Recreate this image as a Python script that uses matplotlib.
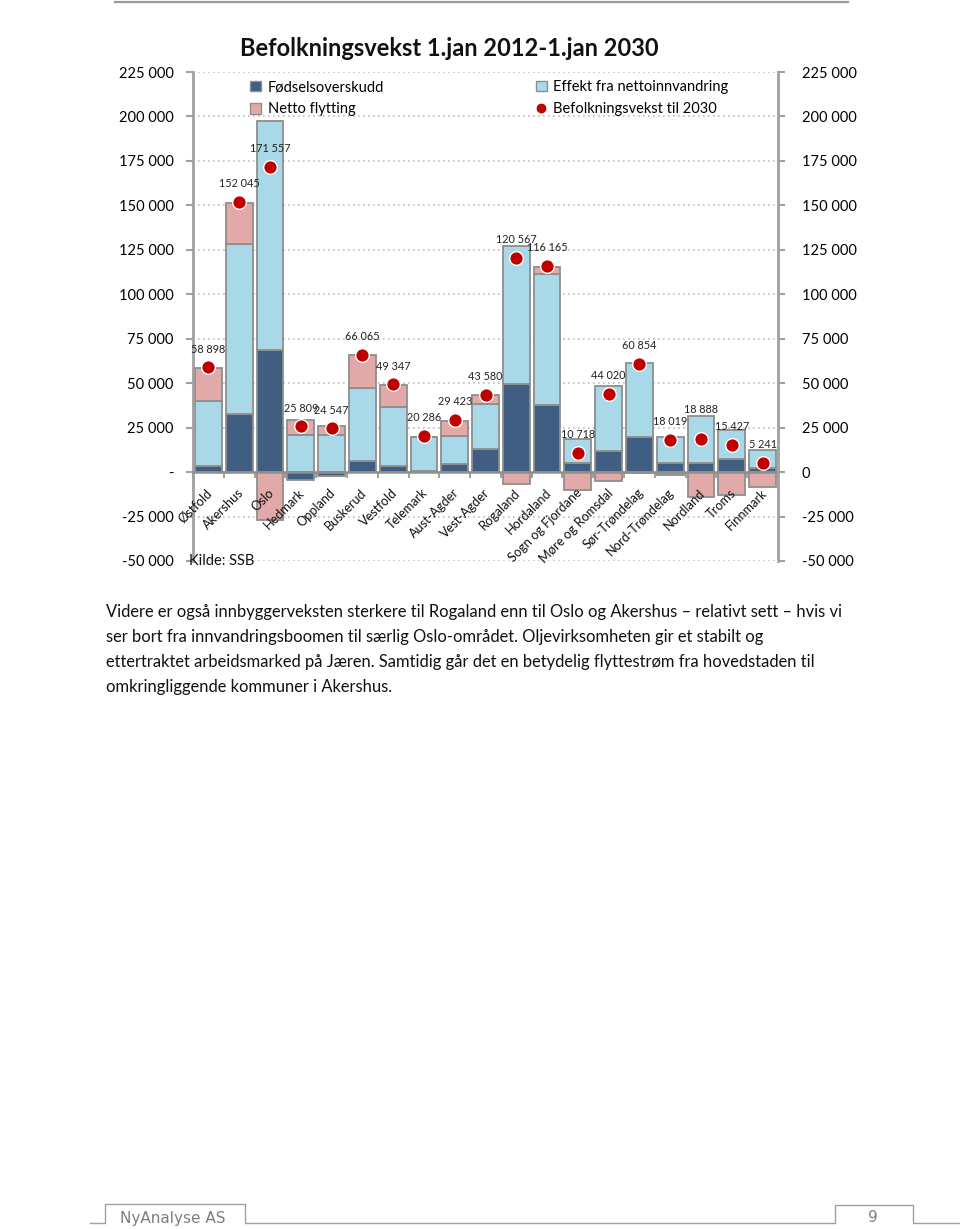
import numpy as np
import matplotlib.pyplot as plt
from matplotlib.lines import Line2D
from matplotlib.patches import Patch

plt.rcParams['font.family'] = ['Lato', 'DejaVu Sans']

# Data
fylker = ['Østfold', 'Akershus', 'Oslo', 'Hedmark', 'Oppland', 'Buskerud', 'Vestfold',
          'Telemark', 'Aust-Agder', 'Vest-Agder', 'Rogaland', 'Hordaland',
          'Sogn og Fjordane', 'Møre og Romsdal', 'Sør-Trøndelag', 'Nord-Trøndelag',
          'Nordland', 'Troms', 'Finnmark']
fodselsoverskudd = [3500, 32800, 68800, -4300, -2200, 6400, 3600, 800, 4700, 13100,
                    49300, 38000, 5300, 12000, 20000, 5300, 5300, 7500, 2200]
nettoinnvandring = [36400, 95300, 128400, 21000, 21000, 40800, 33100, 18900, 15800, 25300,
                    77700, 73500, 13200, 36300, 41500, 14700, 26400, 15900, 10400]
netto_flytting = [18400, 23400, -26700, 8400, 5100, 18400, 12000, 0, 8400, 4700,
                  -6900, 4100, -9900, -5000, -600, -1500, -14000, -13100, -8400]
befolkningsvekst = [58898, 152045, 171557, 25809, 24547, 66065, 49347, 20286, 29423, 43580,
                    120567, 116165, 10718, 44020, 60854, 18019, 18888, 15427, 5241]

serier = ['Fødselsoverskudd', 'Effekt fra nettoinnvandring', 'Netto flytting']
farger = ['#3F5E82', '#A9D8E8', '#E2A9A9']
kant = '#8E8E8E'

tekst = ['Videre er også innbyggerveksten sterkere til Rogaland enn til Oslo og Akershus \u2013 relativt sett \u2013 hvis vi',
         'ser bort fra innvandringsboomen til særlig Oslo-området. Oljevirksomheten gir et stabilt og',
         'ettertraktet arbeidsmarked på Jæren. Samtidig går det en betydelig flyttestrøm fra hovedstaden til',
         'omkringliggende kommuner i Akershus.']


def fmt(v):
    return f'{v:,.0f}'.replace(',', ' ')


W, H = 960, 1229
fig = plt.figure(figsize=(W / 100, H / 100), dpi=100)


def fx(px):
    return px / W


def fy(py):
    return 1 - py / H


ax = fig.add_axes([fx(193), fy(561), fx(778) - fx(193), fy(72) - fy(561)])

x = np.arange(len(fylker))
pos_bunn = np.zeros(len(x))
neg_bunn = np.zeros(len(x))
for vals, col in zip([fodselsoverskudd, nettoinnvandring, netto_flytting], farger):
    vals = np.array(vals, dtype=float)
    bunn = np.where(vals >= 0, pos_bunn, neg_bunn)
    ax.bar(x, vals, 0.87, bottom=bunn, color=col, edgecolor=kant, linewidth=1.3, zorder=2)
    pos_bunn += np.clip(vals, 0, None)
    neg_bunn += np.clip(vals, None, 0)

ax.plot(x, befolkningsvekst, 'o', color='#C00000', mec='white', mew=1.0, ms=9.8, ls='none', zorder=4)

# data labels, Nordland label is lifted a bit in the original
ekstra = [0] * len(fylker)
ekstra[fylker.index('Nordland')] = 8
for i, v in enumerate(befolkningsvekst):
    ax.annotate(fmt(v), (x[i], v), xytext=(0, 13 + ekstra[i]), textcoords='offset points',
                ha='center', va='center', fontsize=7.8, color='#222222', zorder=5)

ax.set_xlim(-0.5, len(fylker) - 0.5)
ax.set_ylim(-50000, 225000)
yt = np.arange(-50000, 225001, 25000)
ax.set_yticks(yt)
ax.set_yticklabels(['-' if v == 0 else fmt(v) for v in yt], fontsize=10.5)
ax.grid(axis='y', linestyle=(0, (1, 2)), color='#BDBDBD', linewidth=1.2, zorder=0)
ax.set_axisbelow(True)

for s in ['top', 'right']:
    ax.spines[s].set_visible(False)
ax.spines['left'].set_color('#A0A0A0')
ax.spines['left'].set_linewidth(2)
ax.spines['bottom'].set_position(('data', 0))
ax.spines['bottom'].set_color('#8E8E8E')
ax.spines['bottom'].set_linewidth(1.8)
ax.spines['bottom'].set_zorder(3)
ax.tick_params(axis='y', direction='out', length=5, width=1.5, color='#A0A0A0', pad=9)
ax.set_xticks(np.arange(-0.5, len(fylker), 1))
ax.set_xticklabels([])
ax.tick_params(axis='x', direction='out', length=4, width=1.2, color='#8E8E8E')

for i, navn in enumerate(fylker):
    ax.annotate(navn, (x[i], 0), xytext=(1.5, -13.5), textcoords='offset points', rotation=45,
                rotation_mode='anchor', ha='right', va='center', fontsize=9.2, color='#111111')

ax2 = ax.twinx()
ax2.set_ylim(ax.get_ylim())
ax2.set_yticks(yt)
ax2.set_yticklabels([fmt(v) for v in yt], fontsize=10.5)
for s in ['top', 'left', 'bottom']:
    ax2.spines[s].set_visible(False)
ax2.spines['right'].set_color('#A0A0A0')
ax2.spines['right'].set_linewidth(2)
ax2.tick_params(axis='y', direction='out', length=5, width=1.5, color='#A0A0A0', pad=12)

ax.text(-0.64, -50000, 'Kilde: SSB', fontsize=10.5, ha='left', va='center', color='#111111')

handles = [Patch(facecolor=farger[0], edgecolor=kant), Patch(facecolor=farger[2], edgecolor=kant),
           Patch(facecolor=farger[1], edgecolor=kant),
           Line2D([], [], marker='o', color='#C00000', ls='none', ms=6)]
labels = [serier[0], serier[2], serier[1], 'Befolkningsvekst til 2030']
fig.legend(handles, labels, ncol=2, loc='upper left', bbox_to_anchor=(fx(237), fy(67)),
           frameon=False, fontsize=10.5, handlelength=0.75, handleheight=0.75,
           handletextpad=0.45, columnspacing=10.4, labelspacing=0.57)

fig.text(fx(449), fy(49), 'Befolkningsvekst 1.jan 2012-1.jan 2030', ha='center', va='center',
         fontsize=17, fontweight='bold', color='#111111')

# page decorations
fig.add_artist(Line2D([fx(115), fx(848)], [fy(2), fy(2)], color='#9A9A9A', lw=1.6))
fpx = [90, 105, 105, 245, 245, 835, 835, 913, 913, 960]
fpy = [1223, 1223, 1204, 1204, 1223, 1223, 1205, 1205, 1223, 1223]
fig.add_artist(Line2D([fx(v) for v in fpx], [fy(v) for v in fpy], color='#A0A0A0', lw=1.0))
fig.text(fx(120), fy(1218), 'NyAnalyse AS', fontsize=11, color='#7F7F7F', va='center',
         family=['DejaVu Sans'])
fig.text(fx(873), fy(1218), '9', fontsize=11, color='#7F7F7F', va='center', ha='center',
         family=['DejaVu Sans'])

for k, linje in enumerate(tekst):
    fig.text(fx(106), fy(612 + 25 * k), linje, fontsize=11.9, va='center', color='#111111')

fig.savefig('out.png', dpi=100)
